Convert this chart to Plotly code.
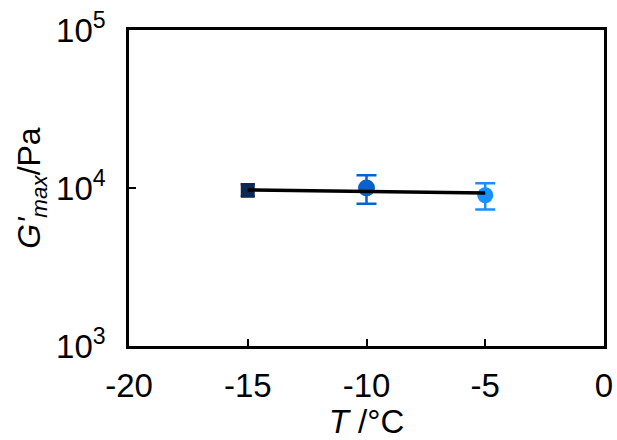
import plotly.graph_objects as go

temps = [-15, -10, -5]
gmax = [9700, 10000, 9000]
gerr = [850, 2050, 1700]
colors = ["#0b2a52", "#0a62c6", "#1a8fff"]
symbols = ["square", "circle", "circle"]
msizes = [14, 17, 16]
capw = [7, 10, 10]

fit_x = [-15, -5]
fit_y = [9713, 9300]

xtick_vals = [-20, -15, -10, -5, 0]
xtick_text = ["-20", "-15", "-10", "-5", "0"]
ytick_vals = [1000, 10000, 100000]
ytick_text = ["10<sup>3</sup>", "10<sup>4</sup>", "10<sup>5</sup>"]

FONT = "Arial, Liberation Sans, sans-serif"

fig = go.Figure()
for t, g, e, c, s, ms, cw in zip(temps, gmax, gerr, colors, symbols, msizes, capw):
    fig.add_trace(go.Scatter(
        x=[t], y=[g], mode="markers",
        marker=dict(color=c, symbol=s, size=ms, line=dict(width=0)),
        error_y=dict(type="data", array=[e], color=c, thickness=2.5, width=cw),
        showlegend=False,
    ))
fig.add_trace(go.Scatter(x=fit_x, y=fit_y, mode="lines",
                         line=dict(color="black", width=3.5), showlegend=False))

fig.update_layout(
    width=617, height=440,
    margin=dict(l=129, r=13, t=30, b=94),
    plot_bgcolor="white", paper_bgcolor="white",
    font=dict(family=FONT, size=33, color="black"),
)
fig.update_xaxes(
    range=[-20, 0], tickvals=xtick_vals, ticktext=xtick_text,
    ticks="inside", ticklen=7, tickwidth=1.5,
    tickcolor="black", showline=True, linecolor="black", linewidth=2.5, mirror=True,
    showgrid=False, zeroline=False, ticklabelstandoff=9, automargin=False,
    title=dict(text="<i>T</i> /°C", standoff=2, font=dict(size=33)),
)
fig.update_yaxes(
    type="log", range=[3, 5], tickvals=ytick_vals, ticktext=ytick_text,
    ticks="inside", ticklen=7, tickwidth=1.5, tickcolor="black",
    showline=True, linecolor="black", linewidth=2.5, mirror=True,
    showgrid=False, zeroline=False, ticklabelstandoff=14, automargin=False,
    title=dict(text="<i>G'</i><sub><i>max</i></sub>/Pa", standoff=6, font=dict(size=32)),
)
fig.write_html("out.html")
